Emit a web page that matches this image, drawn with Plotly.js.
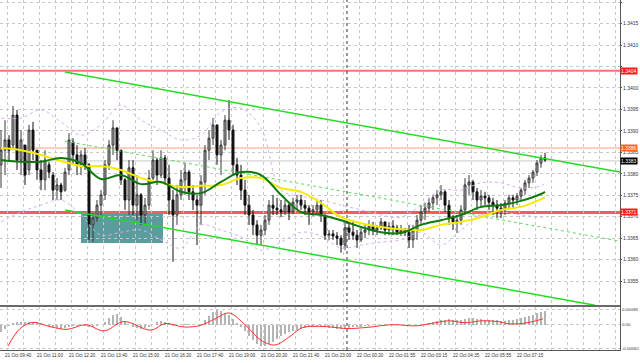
<!DOCTYPE html>
<html><head><meta charset="utf-8">
<script src="https://cdn.plot.ly/plotly-3.0.1.min.js"></script>
<style>html,body{margin:0;padding:0;background:#fff}#chart{width:640px;height:363px}</style>
</head><body><div id="chart"></div>
<script>
// 10-minute bars, index 0..136
const open=[1.33821,1.33855,1.33879,1.33867,1.33937,1.33832,1.33867,1.33809,1.33902,1.33855,
1.33809,1.33786,1.33821,1.33797,1.33762,1.33774,1.33762,1.33809,1.33874,1.33844,
1.33821,1.33844,1.33821,1.33681,1.33697,1.33727,1.33751,1.33821,1.33867,1.33907,
1.33855,1.33786,1.33739,1.33814,1.33727,1.33751,1.33704,1.33727,1.33790,1.33832,
1.33797,1.33837,1.33790,1.33739,1.33704,1.33751,1.33786,1.33804,1.33758,1.33739,
1.33727,1.33781,1.33855,1.33883,1.33914,1.33844,1.33867,1.33925,1.33902,1.33821,
1.33797,1.33762,1.33727,1.33704,1.33681,1.33657,1.33669,1.33692,1.33727,1.33720,
1.33716,1.33711,1.33727,1.33711,1.33734,1.33739,1.33727,1.33720,1.33711,1.33716,
1.33727,1.33704,1.33657,1.33660,1.33655,1.33650,1.33634,1.33674,1.33664,1.33657,
1.33646,1.33664,1.33669,1.33678,1.33669,1.33674,1.33688,1.33669,1.33678,1.33674,
1.33664,1.33669,1.33664,1.33646,1.33669,1.33692,1.33711,1.33720,1.33732,1.33744,
1.33751,1.33758,1.33727,1.33697,1.33688,1.33692,1.33716,1.33774,1.33781,1.33758,
1.33739,1.33748,1.33744,1.33734,1.33727,1.33720,1.33716,1.33732,1.33744,1.33739,
1.33748,1.33762,1.33779,1.33790,1.33804,1.33825,1.33837];
const high=[1.33902,1.33925,1.33890,1.33958,1.33949,1.33902,1.33867,1.33914,1.33921,1.33855,
1.33832,1.33855,1.33828,1.33804,1.33790,1.33779,1.33814,1.33895,1.33883,1.33867,
1.33855,1.33860,1.33825,1.33709,1.33739,1.33762,1.33832,1.33879,1.33925,1.33907,
1.33855,1.33790,1.33832,1.33832,1.33797,1.33755,1.33744,1.33809,1.33855,1.33837,
1.33855,1.33844,1.33821,1.33762,1.33774,1.33809,1.33825,1.33809,1.33774,1.33751,
1.33797,1.33867,1.33902,1.33930,1.33914,1.33879,1.33937,1.33972,1.33914,1.33837,
1.33821,1.33786,1.33751,1.33716,1.33692,1.33681,1.33704,1.33739,1.33751,1.33744,
1.33739,1.33739,1.33732,1.33744,1.33751,1.33751,1.33739,1.33727,1.33727,1.33739,
1.33739,1.33704,1.33669,1.33669,1.33664,1.33657,1.33688,1.33688,1.33692,1.33669,
1.33674,1.33681,1.33692,1.33688,1.33681,1.33697,1.33688,1.33688,1.33692,1.33681,
1.33681,1.33674,1.33681,1.33681,1.33704,1.33727,1.33732,1.33744,1.33751,1.33762,
1.33774,1.33762,1.33739,1.33704,1.33704,1.33727,1.33790,1.33797,1.33786,1.33767,
1.33762,1.33758,1.33751,1.33744,1.33739,1.33732,1.33739,1.33751,1.33751,1.33755,
1.33767,1.33786,1.33797,1.33809,1.33832,1.33844,1.33849];
const low=[1.33767,1.33797,1.33832,1.33855,1.33809,1.33797,1.33774,1.33797,1.33832,1.33786,
1.33762,1.33762,1.33790,1.33739,1.33739,1.33739,1.33758,1.33797,1.33821,1.33797,
1.33797,1.33809,1.33646,1.33641,1.33688,1.33704,1.33739,1.33809,1.33844,1.33832,
1.33774,1.33716,1.33704,1.33704,1.33692,1.33681,1.33681,1.33716,1.33786,1.33774,
1.33790,1.33774,1.33704,1.33595,1.33681,1.33739,1.33751,1.33739,1.33716,1.33634,
1.33681,1.33751,1.33832,1.33867,1.33821,1.33797,1.33855,1.33879,1.33797,1.33774,
1.33739,1.33704,1.33681,1.33657,1.33634,1.33634,1.33657,1.33681,1.33704,1.33704,
1.33699,1.33704,1.33692,1.33706,1.33716,1.33716,1.33704,1.33681,1.33702,1.33704,
1.33688,1.33646,1.33646,1.33646,1.33634,1.33616,1.33622,1.33646,1.33646,1.33627,
1.33641,1.33650,1.33657,1.33657,1.33657,1.33669,1.33657,1.33657,1.33657,1.33657,
1.33655,1.33655,1.33627,1.33627,1.33646,1.33681,1.33692,1.33711,1.33716,1.33727,
1.33739,1.33711,1.33681,1.33669,1.33662,1.33681,1.33704,1.33751,1.33739,1.33716,
1.33720,1.33727,1.33716,1.33704,1.33697,1.33697,1.33704,1.33720,1.33720,1.33727,
1.33739,1.33751,1.33767,1.33779,1.33795,1.33814,1.33828];
const close=[1.33855,1.33879,1.33855,1.33937,1.33832,1.33879,1.33797,1.33902,1.33855,1.33809,
1.33786,1.33832,1.33804,1.33762,1.33774,1.33758,1.33804,1.33879,1.33844,1.33821,
1.33844,1.33821,1.33681,1.33697,1.33727,1.33751,1.33821,1.33867,1.33907,1.33855,
1.33786,1.33739,1.33814,1.33727,1.33751,1.33704,1.33727,1.33790,1.33832,1.33797,
1.33837,1.33790,1.33739,1.33704,1.33751,1.33786,1.33804,1.33758,1.33739,1.33727,
1.33781,1.33855,1.33883,1.33914,1.33844,1.33867,1.33925,1.33902,1.33821,1.33797,
1.33762,1.33727,1.33704,1.33681,1.33657,1.33669,1.33692,1.33727,1.33720,1.33716,
1.33711,1.33727,1.33711,1.33734,1.33739,1.33727,1.33720,1.33711,1.33716,1.33727,
1.33704,1.33657,1.33660,1.33655,1.33650,1.33634,1.33674,1.33664,1.33657,1.33646,
1.33664,1.33669,1.33678,1.33669,1.33674,1.33688,1.33669,1.33678,1.33674,1.33664,
1.33669,1.33664,1.33646,1.33669,1.33692,1.33711,1.33720,1.33732,1.33744,1.33751,
1.33758,1.33727,1.33697,1.33688,1.33692,1.33716,1.33774,1.33781,1.33758,1.33739,
1.33748,1.33744,1.33734,1.33727,1.33720,1.33716,1.33732,1.33744,1.33739,1.33748,
1.33762,1.33779,1.33790,1.33804,1.33825,1.33837,1.33832];

// MACD histogram (x 1e-5)
const macdHist=[-18,-12,-4,4,6,6,7,6,6,5,3,0,
-4,-7,-9,-10,-8,-6,-4,-3,-2,-3,-5,-6,-4,0,6,
18,26,28,20,8,-2,-6,-8,-10,-9,-6,0,6,9,8,4,
-3,-2,0,2,1,-1,0,3,12,22,32,37,35,30,25,15,5,-5,
-15,-28,-40,-50,-55,-55,-50,-45,-38,-30,-25,
-20,-16,-13,-10,-8,-7,-6,-5,-5,-6,-8,-9,-10,-10,
-9,-8,-7,-6,-5,-4,-3,-2,-2,-1,0,0,1,
1,0,-1,-2,-2,-1,1,3,5,
7,9,11,13,14,13,12,12,14,
16,16,15,14,13,12,12,11,10,10,11,
13,15,17,20,23,26,29,32,34];
const signalIdx=[1.75,4.75,8,12.25,16.5,21.25,25.75,30.75,37.5,41,45.75,49.75,53.5,57,61,65,68.5,72.25,75.25,79.25,83.5,86.5,91.5,97.75,103.75,108,112,116,120.25,124.25,127.25,131.5,135.5];
const signalVal=[-55,-10,6,-5,-12,0,-16,8,-14,3,-6,-2,15,30,0,-40,-52,-30,-8,-4,-7,-10,-7,0,-3,4,10,5,10,8,2,5,15];

// moving averages and Bollinger bands
const maIdx=[0,5,10,15,20,25,30,35,40,45,50,55,60,65,70,75,80,85,90,95,100,105,110,115,120,125,130,135,136];
const maYellow=[1.33860,1.33855,1.33844,1.33830,1.33818,1.33818,1.33809,1.33790,1.33779,1.33769,1.33772,1.33774,1.33790,1.33790,1.33767,1.33758,1.33732,1.33699,1.33685,1.33676,1.33671,1.33669,1.33681,1.33688,1.33699,1.33716,1.33723,1.33741,1.33746];
const maGreen=[1.33832,1.33828,1.33828,1.33837,1.33825,1.33788,1.33797,1.33776,1.33781,1.33758,1.33755,1.33781,1.33804,1.33797,1.33751,1.33711,1.33704,1.33692,1.33676,1.33664,1.33662,1.33681,1.33692,1.33704,1.33723,1.33727,1.33737,1.33753,1.33758];
const bbUpper=[1.33930,1.33930,1.33949,1.33921,1.33890,1.33914,1.33960,1.33925,1.33902,1.33879,1.33890,1.33944,1.33953,1.33907,1.33762,1.33748,1.33739,1.33727,1.33716,1.33704,1.33699,1.33727,1.33762,1.33762,1.33779,1.33779,1.33767,1.33772,1.33779];
const bbLower=[1.33688,1.33711,1.33727,1.33739,1.33704,1.33657,1.33664,1.33669,1.33646,1.33627,1.33681,1.33669,1.33653,1.33622,1.33641,1.33664,1.33655,1.33627,1.33634,1.33641,1.33646,1.33664,1.33634,1.33669,1.33704,1.33711,1.33704,1.33699,1.33699];

// channel trend lines
const chanUpperIdx=[16,154.75], chanUpperVal=[1.34037,1.33804];
const chanLowerIdx=[16,148.5],  chanLowerVal=[1.33716,1.33494];
const chanMidIdx=[16,154.75],   chanMidVal=[1.33876,1.33643];

// levels and zone
const levelPrices=[1.3404,1.3386,1.3383,1.3371];
const levelLabels=['1.3404','1.3386','1.3383','1.3371'];
const zoneIdx=[20,40.5], zoneVal=[1.33639,1.33709];
const daySepIdx=86.5;

// price axis ticks
const priceTicks=[1.3355,1.3360,1.3365,1.3370,1.3375,1.3380,1.3385,1.3390,1.3395,1.3400,1.3405,1.3410,1.3415,1.3420];
const priceTickText=['1.3355','1.3360','1.3365','1.3370','1.3375','1.3380','1.3385','1.3390','1.3395','1.3400','','1.3410','1.3415','1.3420'];
const macdTicks=[0.00038,0,-0.00061];
const macdTickText=['0.00038','0.00','-0.00061'];

// time axis labels
const timeLabels=['21 Oct 09:40','21 Oct 11:00','21 Oct 12:20','21 Oct 13:40','21 Oct 15:00','21 Oct 16:20','21 Oct 17:40','21 Oct 19:00','21 Oct 20:20','21 Oct 21:40','21 Oct 23:00','22 Oct 00:20','22 Oct 01:55','22 Oct 03:15','22 Oct 04:35','22 Oct 05:55','22 Oct 07:15'];
const timeLabelIdx=[0.5,8.5,16.5,24.5,32.5,40.5,48.5,56.5,64.5,72.5,80.5,88.5,96.5,104.5,112.5,120.5,128.5];

const idx=open.map((_,i)=>i);
const FONT='Liberation Sans, Arial, sans-serif';
const GRID='#c8c8c8';
const split=44/350;

const traces=[
 {type:'scatter',mode:'lines',x:maIdx,y:bbUpper,line:{color:'#d4b0ee',width:1,dash:'dot',shape:'spline'},hoverinfo:'skip'},
 {type:'scatter',mode:'lines',x:maIdx,y:bbLower,line:{color:'#d4b0ee',width:1,dash:'dot',shape:'spline'},hoverinfo:'skip'},
 {type:'scatter',mode:'lines',x:chanMidIdx,y:chanMidVal,line:{color:'#5ddc5d',width:1,dash:'dot'}},
 {type:'candlestick',x:idx,open:open,high:high,low:low,close:close,whiskerwidth:0,
  increasing:{line:{color:'#3a3a3a',width:1},fillcolor:'#a8a8a8'},
  decreasing:{line:{color:'#111111',width:1},fillcolor:'#111111'}},
 {type:'scatter',mode:'lines',x:maIdx,y:maYellow,line:{color:'#f5eb00',width:2,shape:'spline'}},
 {type:'scatter',mode:'lines',x:maIdx,y:maGreen,line:{color:'#0c7a0c',width:2,shape:'spline'}},
 {type:'scatter',mode:'lines',x:chanUpperIdx,y:chanUpperVal,line:{color:'#22dd22',width:1.5}},
 {type:'scatter',mode:'lines',x:chanLowerIdx,y:chanLowerVal,line:{color:'#22dd22',width:1.5}},
 {type:'bar',x:idx,y:macdHist.map(v=>v*1e-5),xaxis:'x2',yaxis:'y2',width:0.55,marker:{color:'#b4b4b4',line:{width:0}}},
 {type:'scatter',mode:'lines',x:signalIdx,y:signalVal.map(v=>v*1e-5),xaxis:'x2',yaxis:'y2',line:{color:'#ff3030',width:1,shape:'spline'}}
];

const levelStyle=[{c:'#ff7070',w:2,bg:'#ff1a1a'},{c:'#f0a080',w:1,bg:'#ff6420'},{c:'#c8c8c8',w:1,bg:'#000000'},{c:'#ff5a5a',w:3,bg:'#ff1a1a'}];
const shapes=[
 {type:'rect',xref:'x',yref:'y',x0:zoneIdx[0],x1:zoneIdx[1],y0:zoneVal[0],y1:zoneVal[1],fillcolor:'#5b9c9c',line:{width:0},layer:'below'},
 {type:'line',xref:'x',yref:'paper',x0:daySepIdx,x1:daySepIdx,y0:0,y1:1,line:{color:'#333',width:1,dash:'dot'}},
 {type:'line',xref:'paper',yref:'paper',x0:0,x1:1,y0:split,y1:split,line:{color:'#6a6a6a',width:2}}
];
levelPrices.forEach((p,k)=>shapes.push({type:'line',xref:'paper',yref:'y',x0:0,x1:1,y0:p,y1:p,line:{color:levelStyle[k].c,width:levelStyle[k].w},layer:'below'}));

const annotations=[];
timeLabels.forEach((t,k)=>annotations.push({text:t,xref:'x2',yref:'paper',x:timeLabelIdx[k],y:0,xanchor:'left',yanchor:'top',yshift:-1,showarrow:false,font:{family:FONT,size:4.6,color:'#333'}}));
levelPrices.forEach((p,k)=>annotations.push({text:levelLabels[k],xref:'paper',yref:'y',x:1,y:p,xanchor:'left',yanchor:'middle',xshift:0,showarrow:false,bgcolor:levelStyle[k].bg,borderpad:0,font:{family:FONT,size:5,color:'#ffffff'}}));

const axX={range:[-0.25,154.75],showticklabels:false,showgrid:true,gridcolor:GRID,griddash:'dot',gridwidth:1,tick0:1.5,dtick:4,zeroline:false,ticks:'',fixedrange:true};
const tf={family:FONT,size:5,color:'#333'};
const layout={
 width:640,height:363,margin:{l:0,r:20,t:0,b:13},paper_bgcolor:'#fff',plot_bgcolor:'#fff',showlegend:false,
 font:{family:FONT,size:5,color:'#333'},
 xaxis:Object.assign({},axX,{anchor:'y',rangeslider:{visible:false},showline:false}),
 xaxis2:Object.assign({},axX,{anchor:'y2',matches:'x',showline:true,linecolor:'#555',linewidth:1}),
 yaxis:{domain:[split,1],side:'right',range:[1.33492,1.34205],tickvals:priceTicks,ticktext:priceTickText,showgrid:true,gridcolor:GRID,griddash:'dot',showline:true,linecolor:'#555',linewidth:1,ticks:'outside',ticklen:1,tickcolor:'#555',zeroline:false,tickfont:tf},
 yaxis2:{domain:[0,split],side:'right',anchor:'x2',range:[-0.00065,0.00048],tickvals:macdTicks,ticktext:macdTickText,showgrid:true,gridcolor:GRID,griddash:'dot',showline:true,linecolor:'#555',linewidth:1,ticks:'',zeroline:false,tickfont:{family:FONT,size:4.4,color:'#333'}},
 shapes:shapes,annotations:annotations,bargap:0
};
Plotly.newPlot('chart',traces,layout,{staticPlot:true,displayModeBar:false});
</script></body></html>
